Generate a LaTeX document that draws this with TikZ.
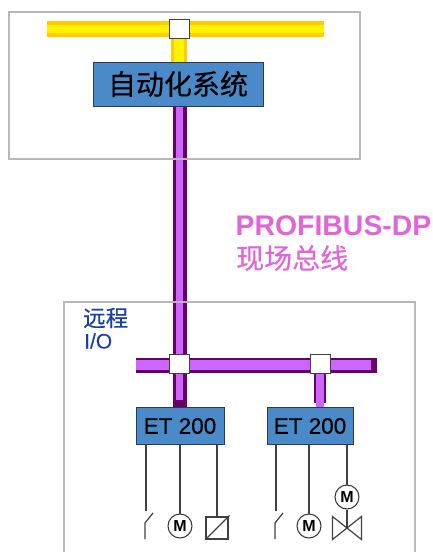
\documentclass[tikz,border=0pt]{standalone}
\usepackage{fontspec}
\setmainfont{Liberation Sans}
\newfontfamily\cjk[FakeBold=0.4]{Noto Sans CJK SC}
\newfontfamily\heavy[FakeBold=0.4]{Liberation Sans}
\usetikzlibrary{positioning, backgrounds}
\definecolor{boxblue}{HTML}{4A8AC8}
\definecolor{boxedge}{HTML}{2A3A50}
\definecolor{busdark}{HTML}{660066}
\definecolor{buslight}{HTML}{CC66FF}
\definecolor{busorange}{HTML}{FFCC00}
\definecolor{labelpink}{HTML}{E066D8}
\definecolor{labelblue}{HTML}{1A3FA8}
\tikzset{
  frame/.style={draw=black!28,line width=1.3pt},
  unit/.style={rectangle,draw=boxedge,fill=boxblue,line width=1pt,inner sep=0pt,align=center},
  tap/.style={rectangle,draw=black!75,fill=white,line width=1pt,inner sep=0pt,minimum width=20pt,minimum height=19pt},
  yellowbus/.style={draw=busorange,line width=4pt,double=yellow,double distance=8pt},
  yellowdrop/.style={draw=busorange,line width=3pt,double=yellow,double distance=10pt},
  purplebus/.style={draw=busdark,line width=3.5pt,double=buslight,double distance=7pt},
  purplerail/.style={draw=busdark,line width=2.5pt,double=buslight,double distance=10pt},
  wire/.style={draw=black!75,line width=1.2pt},
  motor/.style={circle,draw=black!80,fill=white,line width=1pt,minimum size=24pt,inner sep=0pt,font=\bfseries\fontsize{16}{16}\selectfont},
  sensor/.style={rectangle,draw=black!75,line width=1.2pt,minimum size=22pt,inner sep=0pt},
  pinklabel/.style={anchor=west,inner sep=0pt,text=labelpink},
  bluelabel/.style={anchor=west,inner sep=0pt,text=labelblue}
}

\begin{document}
\begin{tikzpicture}[x=1pt,y=-1pt]
\useasboundingbox (0,0) rectangle (433,552);
% frames
\draw[frame] (9,12) rectangle (360,159);
\draw[frame] (64,552) -- (64,302) -- (415,302) -- (415,552);
% junctions and boxes
\node[tap] (t0) at (179,29) {};
\node[unit,minimum width=170pt,minimum height=44pt,font=\cjk\fontsize{28}{28}\selectfont] (plc) at (178,84) {自动化系统};
\node[tap] (t1) at (179,364) {};
\node[tap,right=120pt of t1] (t2) {};
\node[unit,minimum width=88pt,minimum height=37pt,font=\heavy\fontsize{22.5}{22.5}\selectfont] (e1) at (180,426) {ET 200};
\node[unit,minimum width=86pt,minimum height=37pt,font=\heavy\fontsize{22.5}{22.5}\selectfont,right=42pt of e1] (e2) {ET 200};
% bus ends
\coordinate (yl) at (47,29);
\coordinate (yr) at (324,29);
\coordinate (pl) at (136,365);
\coordinate (pr) at (371,365);
\coordinate (pe) at (377,365);
\coordinate (d1) at (179.7,400);
\coordinate (d2) at (319.7,403);
% buses
\begin{pgfonlayer}{background}
\draw[yellowbus] (yl) -- (yr);
\draw[yellowdrop] (t0.south) -- (t0.south |- plc.north);
\draw[purplebus] (plc.south -| d1) -- (t1.north -| d1);
\draw[purplerail] (pl) -- (pr);
\draw[busdark,line width=15pt] (pr) -- (pe);
\draw[purplebus] (t1.south -| d1) -- (d1);
\draw[busdark,line width=14pt] (d1) -- (e1.north -| d1);
\draw[draw=busdark,line width=2.2pt,double=buslight,double distance=8pt] (t2.south -| d2) -- (d2);
\draw[buslight,line width=8pt] (d2) -- (e2.north -| d2);
\end{pgfonlayer}
% labels
\node[pinklabel,font=\bfseries\fontsize{28.4}{28.4}\selectfont] (lp) at (235.5,226) {PROFIBUS-DP};
\node[pinklabel,font=\cjk\fontsize{28}{28}\selectfont] (lc) at (236,258) {现场总线};
\node[bluelabel,font=\cjk\fontsize{22.5}{22.5}\selectfont] (lr) at (83,318) {远程};
\node[bluelabel,font=\heavy\fontsize{21}{21}\selectfont] (li) at (84,341) {I/O};
% field devices
\node[motor] (m1) at (180,526) {M};
\node[sensor] (q1) at (217,528) {};
\node[motor] (m2) at (309,526) {M};
\node[motor] (m3) at (347,497) {M};
\coordinate (s1) at (146,511);
\coordinate (s2) at (276,511);
\coordinate (v) at (347,528);
\draw[wire] (e1.south -| s1) -- (s1);
\draw[wire] (e1.south -| m1) -- (m1);
\draw[wire] (e1.south -| q1) -- (q1);
\draw[wire] (e2.south -| s2) -- (s2);
\draw[wire] (e2.south -| m2) -- (m2);
\draw[wire] (e2.south -| m3) -- (m3);
\draw[wire] (m3) -- (v);
% switches
\draw[wire] ([shift={(7,2)}]s1) -- ([shift={(-1,12)}]s1) -- ([shift={(-1,28)}]s1);
\draw[wire] ([shift={(7,2)}]s2) -- ([shift={(-1,12)}]s2) -- ([shift={(-1,28)}]s2);
% sensor diagonal
\draw[wire] (q1.south west) -- ([shift={(1,-1)}]q1.north east);
% valve
\draw[wire] (v) -- ([shift={(-14.5,-11.5)}]v) -- ([shift={(-14.5,11.5)}]v) -- ([shift={(14.5,-11.5)}]v) -- ([shift={(14.5,11.5)}]v) -- cycle;
\end{tikzpicture}
\end{document}
